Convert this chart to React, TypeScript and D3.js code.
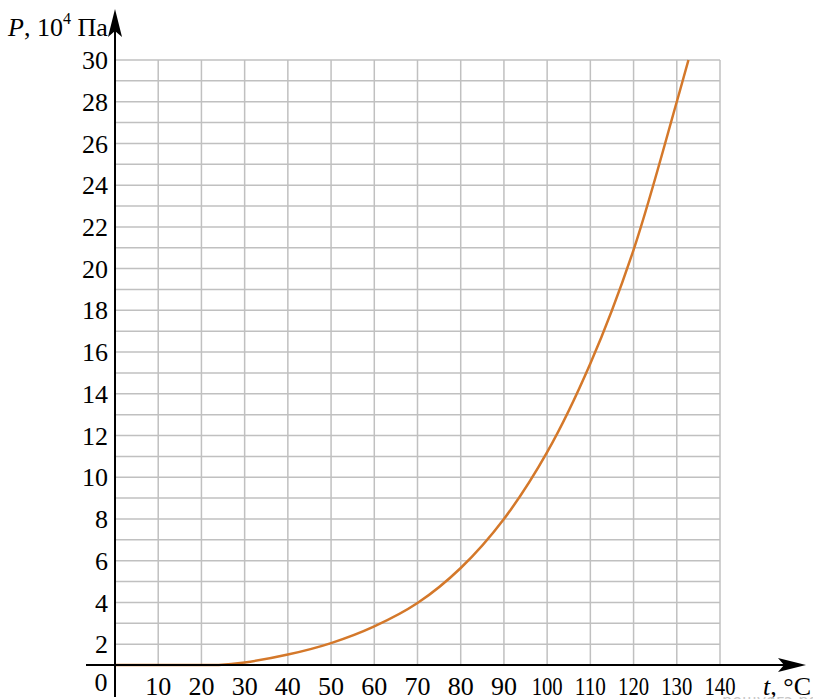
import React from 'react';
import * as d3 from 'd3';

// temperature, °C
const temps = [0, 10, 20, 24, 30, 40, 50, 60, 70, 80, 90, 100, 110, 120, 130, 132.7];
// pressure as read against the grid labels, 10^4 Pa
const pressures = [1, 1, 1, 1, 1.12, 1.5, 2.05, 2.85, 3.97, 5.65, 8.0, 11.2, 15.45, 20.9, 28.0, 30];

const xTicks = [10, 20, 30, 40, 50, 60, 70, 80, 90, 100, 110, 120, 130, 140];
const yTicks = [2, 4, 6, 8, 10, 12, 14, 16, 18, 20, 22, 24, 26, 28, 30];
const yGrid = d3.range(2, 31);

const W = 813;
const H = 699;

export default function App() {
  const x = d3.scaleLinear().domain([0, 140]).range([115, 720]);
  // the horizontal axis sits on the first grid line (value 1)
  const y = d3.scaleLinear().domain([1, 30]).range([665, 60]);

  const path = d3
    .line<number>()
    .x((d, i) => x(temps[i]))
    .y(d => y(d))
    .curve(d3.curveCatmullRom.alpha(0.5))(pressures);

  const font = '"Liberation Serif", "Times New Roman", serif';
  const x0 = x(0);
  const yBase = y(1);

  return (
    <div style={{ position: 'fixed', left: 0, top: 0 }}>
      <svg width={W} height={H} style={{ display: 'block' }} fontFamily={font}>
        <rect width={W} height={H} fill="#fff" />
        <g stroke="#c0c0c0" strokeWidth={1.5}>
          {yGrid.map(v => (
            <line key={'h' + v} x1={x0} x2={x(140)} y1={y(v)} y2={y(v)} />
          ))}
          {xTicks.map(v => (
            <line key={'v' + v} x1={x(v)} x2={x(v)} y1={y(30)} y2={yBase} />
          ))}
        </g>

        <path d={path || ''} fill="none" stroke="#d4782a" strokeWidth={2.5} />

        {/* axes */}
        <g stroke="#000" strokeWidth={2}>
          <line x1={x0} x2={x0} y1={697} y2={20} />
          <line x1={86} x2={796} y1={yBase} y2={yBase} />
        </g>
        <path
          d={`M${x0},9 L${x0 + 7},37 L${x0},31 L${x0 - 7},37 Z`}
          fill="#000"
        />
        <path
          d={`M806,${yBase} L778,${yBase - 7} L784,${yBase} L778,${yBase + 7} Z`}
          fill="#000"
        />

        <g fontSize={26} fill="#000">
          {yTicks.map(v => (
            <text key={'yl' + v} x={108} y={y(v)} dy="0.35em" textAnchor="end">
              {v}
            </text>
          ))}
          {xTicks.map(v => (
            <text
              key={'xl' + v}
              x={x(v)}
              y={695}
              textAnchor="middle"
              {...(v >= 100 ? { textLength: 31, lengthAdjust: 'spacingAndGlyphs' } : {})}
            >
              {v}
            </text>
          ))}
          <text x={101} y={691} textAnchor="middle">
            0
          </text>

          <text x={8} y={36}>
            <tspan fontStyle="italic">P</tspan>
            <tspan>, 10</tspan>
            <tspan fontSize={16} dy={-12}>4</tspan>
            <tspan dy={12}> Па</tspan>
          </text>
          <text x={763} y={695}>
            <tspan fontStyle="italic">t</tspan>
            <tspan>, °C</tspan>
          </text>
        </g>
        <text x={722} y={706} fontSize={16} fill="#c8c8c8" fontFamily='"DejaVu Sans", sans-serif'>
          решуегэ.рф
        </text>
      </svg>
    </div>
  );
}
